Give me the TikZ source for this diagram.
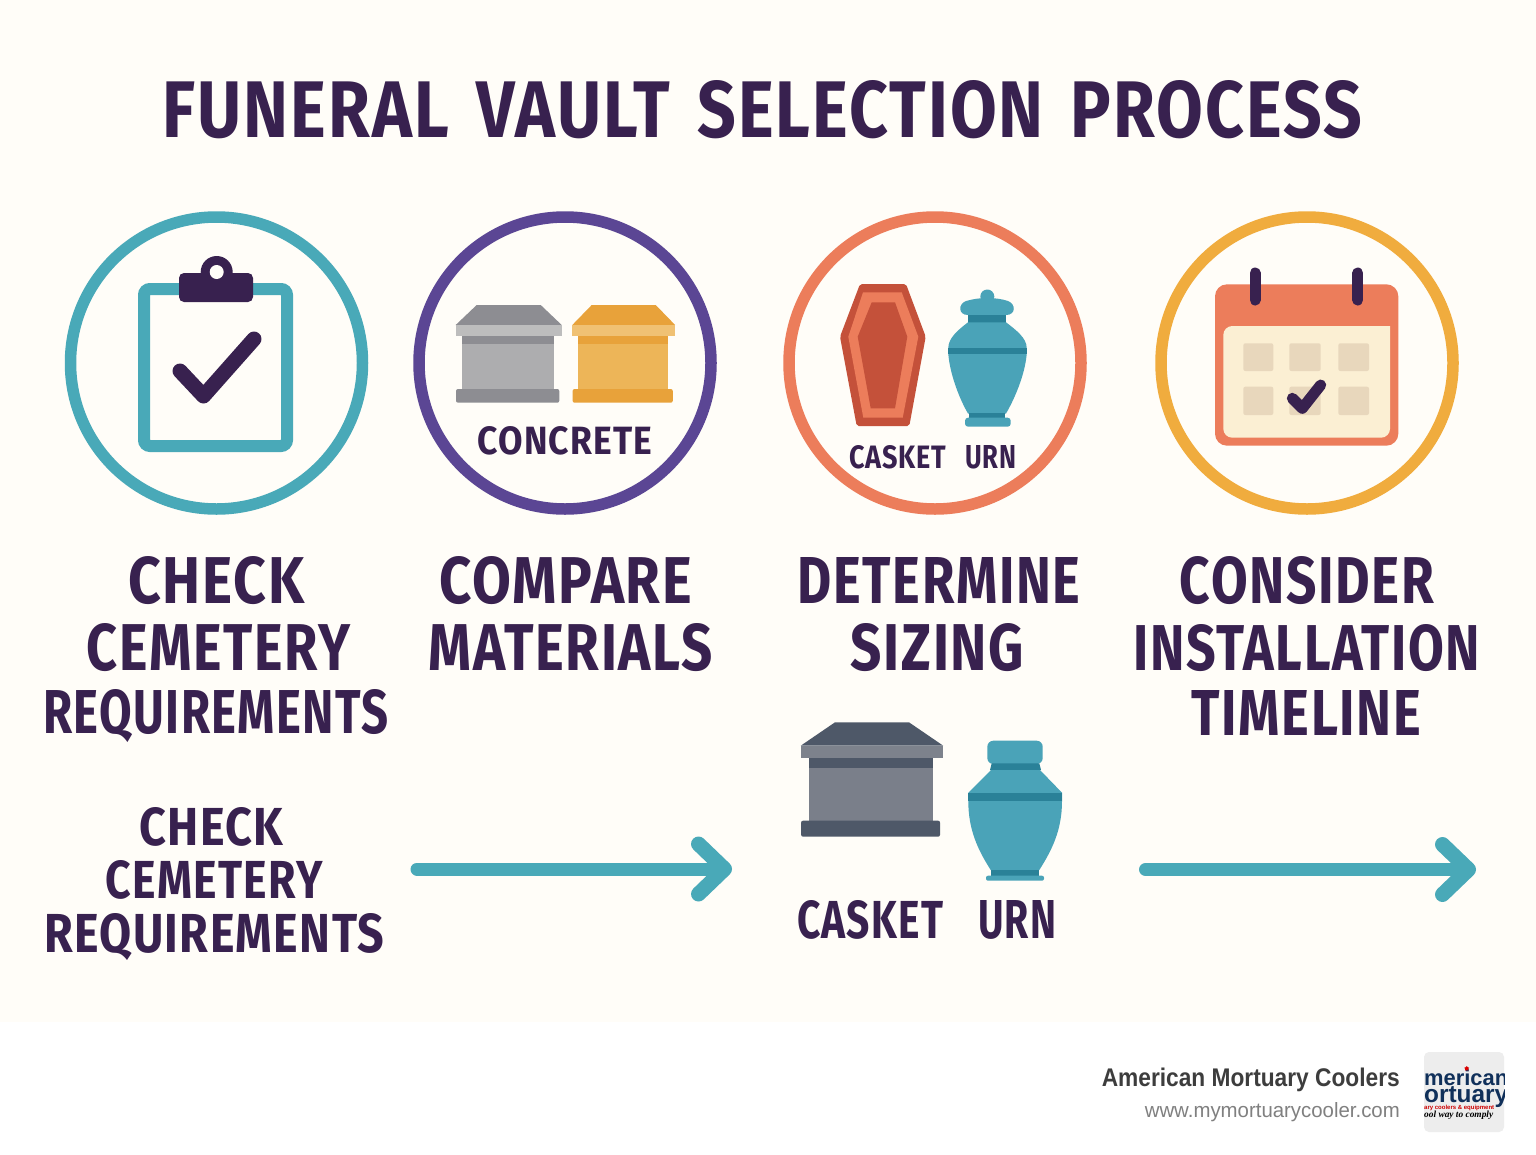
\documentclass[tikz,border=0pt]{standalone}
\usepackage{fontspec}
\usepackage{graphicx}
\usetikzlibrary{arrows.meta,shapes.geometric}
\newfontfamily\headfont{Fira Sans}[LetterSpace=3,WordSpace=1.5]
\newfontfamily\footfont{Liberation Sans}
\newfontfamily\logoserif{Liberation Serif}
\definecolor{pagebg}{HTML}{FFFDF8}
\definecolor{ink}{HTML}{38214F}
\definecolor{teal}{HTML}{49A9B8}
\definecolor{tealdark}{HTML}{2A8198}
\definecolor{urnblue}{HTML}{4AA3B8}
\definecolor{violet}{HTML}{5B4694}
\definecolor{coral}{HTML}{EC7D5B}
\definecolor{amber}{HTML}{F0AC3E}
\definecolor{brick}{HTML}{C4513A}
\definecolor{cream}{HTML}{FBEFD3}
\definecolor{tan}{HTML}{E8D7BC}
\definecolor{navy}{HTML}{10305A}
\definecolor{stonedark}{HTML}{8D8D92}
\definecolor{stonelid}{HTML}{BDBDBD}
\definecolor{stonebody}{HTML}{ADADAF}
\definecolor{goldark}{HTML}{E8A23A}
\definecolor{goldlid}{HTML}{F0C173}
\definecolor{goldbody}{HTML}{EDB558}
\definecolor{slatedark}{HTML}{4E5868}
\definecolor{slatelid}{HTML}{7D828C}
\definecolor{slatebody}{HTML}{7A7F8A}
\newcommand{\fitlabel}[3]{\resizebox{#1pt}{#2pt}{\headfont\bfseries #3}}
% roof inset, then dark, lid and body colours
\newcommand{\vaultbox}[8]{%
  \begin{scope}[shift={(#1,#2)},xscale=#3,yscale=#4]
    \fill[#6] (#5,0) -- (106-#5,0) -- (106,20) -- (0,20) -- cycle;
    \fill[#7] (0,20) rectangle (106,30.7);
    \fill[#6] (6,30.7) rectangle (98.3,39);
    \fill[#8] (6,39) rectangle (98.3,84);
    \fill[#6,rounded corners=2pt] (0.3,97.7) -- (0.3,84) -- (103.6,84) -- (103.6,97.7) -- cycle;
  \end{scope}}
\tikzset{
  ring/.style={circle,draw=#1,line width=11.5pt,minimum size=292pt,inner sep=0pt},
  lbl/.style={inner sep=0pt,text=ink,anchor=base},
  flowline/.style={draw=teal,line width=13pt,line cap=round,-{Straight Barb[length=26pt,width=50pt,line width=15pt,round]}},
  tick/.style={draw=ink,line cap=round,line join=round},
  daybox/.style={fill=tan,rounded corners=2pt}
}
\begin{document}
\begin{tikzpicture}[x=1pt,y=-1pt]
  \useasboundingbox (0,0) rectangle (1536,1154);
  \fill[white] (0,0) rectangle (1536,1154);
  \fill[pagebg] (0,0) rectangle (1536,1022);

  \node[lbl] (title) at (762.5,137.3) {\fitlabel{1199}{57}{FUNERAL VAULT SELECTION PROCESS}};

  \node[ring=teal] (ringa) at (216.5,363) {};
  \node[ring=violet] (ringb) at (565,363) {};
  \node[ring=coral] (ringc) at (935,363) {};
  \node[ring=amber] (ringd) at (1307,363) {};

  % clipboard
  \draw[teal,line width=12pt,rounded corners=6pt] (144,289) rectangle (287,446);
  \fill[ink,rounded corners=5pt] (179,273) rectangle (253,302);
  \fill[ink] (216.7,272) circle[radius=16];
  \fill[pagebg] (216.7,272) circle[radius=7];
  \draw[tick,line width=15pt] (180,371) -- (203.5,396) -- (254,339);

  % vaults
  \vaultbox{455.7}{305}{1}{1}{21}{stonedark}{stonelid}{stonebody}
  \vaultbox{572.3}{305}{0.97}{1}{20}{goldark}{goldlid}{goldbody}
  \node[lbl] (conc) at (565,454) {\fitlabel{174}{28}{CONCRETE}};

  % casket and small urn
  \fill[brick,rounded corners=2pt] (860,284) -- (906,284) -- (925.7,336.7) -- (909.3,426) -- (856.7,426) -- (840,336.7) -- cycle;
  \fill[coral] (863,292.3) -- (901.7,292.3) -- (918.3,336.7) -- (902.7,417.7) -- (863.3,417.7) -- (848.3,336.7) -- cycle;
  \fill[brick] (871.7,302.3) -- (895,302.3) -- (907.3,336.7) -- (895,408.3) -- (870.7,408.3) -- (857.7,336.7) -- cycle;
  \fill[urnblue] (987.3,296.5) circle[radius=7];
  \fill[urnblue] (968,315) .. controls (958,315) and (958,304) .. (966,301) .. controls (973,299) and (980,298) .. (987,298) .. controls (995,298) and (1002,299) .. (1008,301) .. controls (1016,304) and (1016,315) .. (1006,315) -- cycle;
  \fill[tealdark] (968,315) rectangle (1006,322.5);
  \fill[urnblue] (968,322.3) .. controls (958,330) and (948.3,338) .. (948.3,348) -- (948.3,354) .. controls (950,375) and (960,400) .. (968,413.5) -- (1006,413.5) .. controls (1014,400) and (1025,375) .. (1026.7,354) -- (1026.7,348) .. controls (1026.7,338) and (1016,330) .. (1006,322.3) -- cycle;
  \fill[tealdark] (948.3,347.7) rectangle (1026.7,353.7);
  \fill[tealdark] (969.3,413.3) rectangle (1005,417.7);
  \fill[urnblue,rounded corners=3pt] (965,417.7) rectangle (1010.7,426.7);
  \node[lbl] (caska) at (898,468) {\fitlabel{97}{23}{CASKET}};
  \node[lbl] (urna) at (990.5,468) {\fitlabel{51}{23}{URN}};

  % calendar
  \fill[coral,rounded corners=12pt] (1215,284.3) rectangle (1398.3,445.7);
  \fill[cream,rounded corners=9pt] (1223.3,437.7) -- (1223.3,326) [sharp corners] -- (1390,326) [rounded corners=9pt] -- (1390,437.7) -- cycle;
  \draw[ink,line width=11pt,line cap=round] (1255,273) -- (1255,300);
  \draw[ink,line width=11pt,line cap=round] (1357.8,273) -- (1357.8,300);
  \foreach \xa/\xb in {1243.3/1273.3,1289.3/1320.7,1338.3/1369} {
    \fill[daybox] (\xa,343.3) rectangle (\xb,371);
    \fill[daybox] (\xa,386.7) rectangle (\xb,415);
  }
  \draw[tick,line width=11pt] (1292.3,398.3) -- (1302.3,408.3) -- (1320.7,385);

  \node[lbl] (stepa) at (216.5,603) {\fitlabel{176}{47}{CHECK}};
  \node[lbl] (stepb) at (218.5,670) {\fitlabel{263}{47}{CEMETERY}};
  \node[lbl] (stepc) at (216,733) {\fitlabel{345}{44}{REQUIREMENTS}};
  \node[lbl] (matla) at (566,603) {\fitlabel{252}{47}{COMPARE}};
  \node[lbl] (matlb) at (570.7,670) {\fitlabel{284}{47}{MATERIALS}};
  \node[lbl] (sizea) at (939,603) {\fitlabel{282}{46}{DETERMINE}};
  \node[lbl] (sizeb) at (937.5,670) {\fitlabel{173}{47}{SIZING}};
  \node[lbl] (insta) at (1307,603) {\fitlabel{254}{47}{CONSIDER}};
  \node[lbl] (instb) at (1307,670) {\fitlabel{346}{46}{INSTALLATION}};
  \node[lbl] (instc) at (1306.5,735) {\fitlabel{229}{45}{TIMELINE}};

  \node[lbl] (reqa) at (211.6,845) {\fitlabel{144}{38}{CHECK}};
  \node[lbl] (reqb) at (214,898) {\fitlabel{217}{38}{CEMETERY}};
  \node[lbl] (reqc) at (214.3,952) {\fitlabel{340}{39}{REQUIREMENTS}};

  % large vault and urn
  \vaultbox{800.7}{722.3}{1.345}{1.171}{25.5}{slatedark}{slatelid}{slatebody}
  \fill[urnblue,rounded corners=6pt] (987.3,740.7) rectangle (1042.7,764);
  \fill[tealdark] (991.7,763.3) -- (1039.3,763.3) -- (1041,770) -- (990,770) -- cycle;
  \fill[urnblue] (991,770) -- (1040,770) -- (1062,792.7) -- (1062,801) .. controls (1062,830) and (1052,850) .. (1039.3,870) -- (990.7,870) .. controls (978,850) and (968.3,830) .. (968.3,801) -- (968.3,792.7) -- cycle;
  \fill[tealdark] (968.3,793.3) rectangle (1062,800.7);
  \fill[tealdark] (990.7,870) rectangle (1039.3,875.7);
  \fill[urnblue,rounded corners=2pt] (986,875.7) rectangle (1044,880.7);
  \node[lbl] (caskb) at (870,938) {\fitlabel{146}{38}{CASKET}};
  \node[lbl] (urnb) at (1017,938) {\fitlabel{78}{38}{URN}};

  \coordinate (flowa) at (417,869);
  \coordinate (flowb) at (732,869);
  \coordinate (flowc) at (1145.5,869.5);
  \coordinate (flowd) at (1476,869.5);
  \draw[flowline] (flowa) -- (flowb);
  \draw[flowline] (flowc) -- (flowd);

  % footer
  \node[anchor=base east,inner sep=0pt,text=black!76] (brand) at (1400,1086.5) {\resizebox{298pt}{18.5pt}{\footfont\bfseries American Mortuary Coolers}};
  \node[anchor=base east,inner sep=0pt,text=black!50] (site) at (1400,1117.5) {\resizebox{255pt}{15pt}{\footfont www.mymortuarycooler.com}};
  \fill[black!7,rounded corners=5pt] (1424,1052) rectangle (1504,1132);
  \begin{scope}
    \clip[rounded corners=5pt] (1424,1052) rectangle (1504,1132);
    \node[anchor=base west,inner sep=0pt,text=navy] (logoa) at (1424,1085) {\resizebox{84pt}{!}{\footfont\bfseries merican}};
    \node[anchor=base west,inner sep=0pt,text=navy] (logob) at (1424,1102.5) {\resizebox{84pt}{!}{\footfont\bfseries ortuary}};
    \node[anchor=base west,inner sep=0pt,text=red!80!black] (logoc) at (1424,1109) {\resizebox{70pt}{!}{\footfont\bfseries ary coolers \& equipment}};
    \node[anchor=base west,inner sep=0pt,text=black] (logod) at (1424,1117) {\resizebox{69pt}{!}{\logoserif\bfseries\itshape ool way to comply}};
    \node[star,star points=5,fill=red!85!black,inner sep=0pt,minimum size=5pt] (logostar) at (1466.7,1068.5) {};
  \end{scope}
\end{tikzpicture}
\end{document}
